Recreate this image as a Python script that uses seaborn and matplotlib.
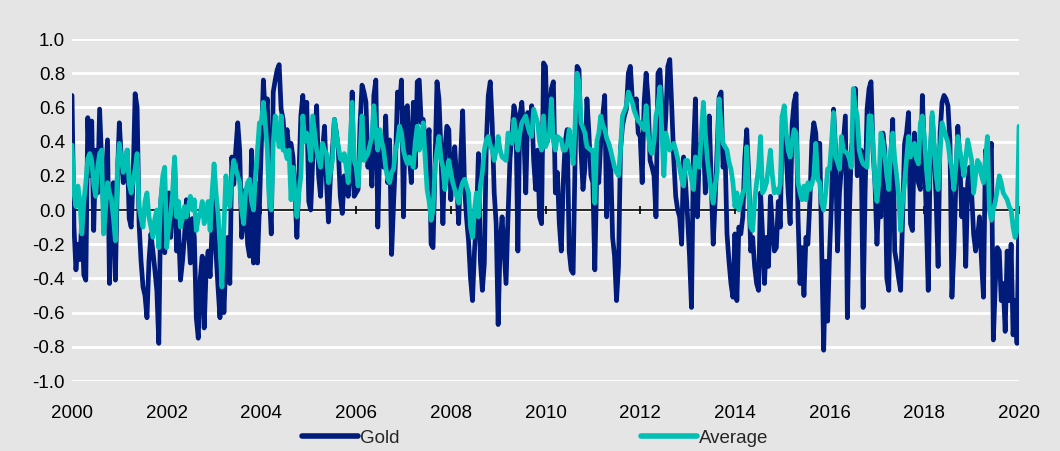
import numpy as np
import pandas as pd
import matplotlib
matplotlib.use("Agg")
import matplotlib.pyplot as plt
import seaborn as sns

# twice-monthly readings, Jan 2000 .. Jan 2020
gold = [
    0.67, -0.10, -0.35, -0.20, -0.29, -0.05, -0.38, -0.41, 0.54, 0.20, 0.52, -0.12,
    0.35, 0.10, 0.59, 0.30, 0.00, 0.20, 0.41, -0.43, 0.05, 0.16, -0.41, 0.20,        # 2000
    0.51, 0.30, 0.16, 0.25, 0.35, -0.05, -0.10, 0.20, 0.68, 0.60, -0.08, -0.30,
    -0.45, -0.50, -0.63, -0.30, -0.14, -0.24, -0.35, -0.47, -0.78, 0.05, 0.16, -0.25,  # 2001
    -0.04, 0.10, -0.16, 0.05, 0.29, -0.24, -0.10, -0.41, -0.30, -0.16, 0.06, -0.10,
    -0.31, -0.05, -0.16, -0.63, -0.75, -0.40, -0.27, -0.69, -0.35, -0.24, -0.39, -0.10,  # 2002
    0.08, -0.25, -0.45, -0.63, -0.16, -0.60, -0.30, -0.16, -0.43, 0.31, 0.15, 0.35,
    0.51, 0.35, -0.16, -0.05, 0.12, -0.20, -0.27, 0.35, -0.31, 0.16, -0.31, 0.02,     # 2003
    0.40, 0.76, 0.55, 0.65, 0.10, -0.14, 0.69, 0.76, 0.82, 0.85, 0.59, 0.53,
    0.35, 0.47, 0.35, 0.39, 0.31, 0.10, -0.16, 0.20, 0.55, 0.67, 0.40, 0.63,         # 2004
    0.05, 0.00, 0.29, 0.40, 0.61, 0.20, 0.08, 0.35, 0.49, 0.16, -0.07, 0.20,
    0.35, 0.53, 0.45, 0.35, 0.08, -0.02, 0.20, 0.15, 0.08, 0.22, 0.69, 0.08,         # 2005
    0.10, 0.12, 0.50, 0.73, 0.69, 0.63, 0.25, 0.40, 0.14, 0.67, 0.76, -0.10,
    0.37, 0.30, 0.25, 0.55, 0.16, 0.41, -0.26, 0.04, 0.30, 0.69, 0.60, 0.76,         # 2006
    -0.04, 0.59, 0.61, 0.31, 0.16, 0.63, 0.25, 0.75, 0.76, 0.51, 0.53, 0.40,
    0.35, 0.47, -0.20, -0.22, 0.27, 0.75, 0.65, 0.35, -0.08, 0.35, 0.49, 0.47,       # 2007
    0.06, 0.25, 0.37, 0.16, -0.08, 0.30, 0.58, 0.12, -0.05, -0.18, -0.40, -0.53,
    -0.24, -0.06, 0.33, -0.30, -0.47, -0.31, 0.39, 0.67, 0.75, 0.50, 0.10, -0.08,    # 2008
    -0.67, -0.20, -0.04, -0.24, -0.43, -0.04, 0.30, 0.45, 0.61, 0.55, -0.24, 0.55,
    0.63, 0.45, 0.10, 0.57, 0.45, 0.61, 0.29, 0.12, 0.35, -0.04, -0.08, 0.86,        # 2009
    0.84, 0.40, 0.55, 0.71, 0.75, 0.10, 0.22, -0.08, -0.24, 0.16, 0.40, 0.47,
    -0.24, -0.35, -0.37, 0.30, 0.84, 0.82, 0.35, 0.12, 0.25, 0.65, 0.45, 0.20,       # 2010
    0.16, -0.35, 0.24, 0.16, 0.40, 0.55, 0.67, -0.04, 0.39, 0.30, -0.16, -0.27,
    -0.53, -0.33, 0.35, 0.49, 0.55, 0.59, 0.80, 0.84, 0.65, 0.59, 0.65, 0.45,        # 2011
    0.43, 0.16, 0.63, 0.80, 0.65, 0.29, 0.25, 0.20, -0.04, 0.80, 0.82, 0.60,
    0.35, 0.55, 0.84, 0.88, 0.60, 0.30, 0.08, 0.00, -0.04, -0.20, 0.31, 0.16,        # 2012
    -0.04, -0.27, -0.57, 0.35, 0.65, -0.04, 0.35, 0.40, 0.45, 0.10, 0.35, 0.55,
    0.16, -0.20, 0.06, 0.35, 0.66, 0.69, 0.25, 0.35, -0.14, -0.30, -0.43, -0.51,     # 2013
    -0.14, -0.53, -0.10, -0.14, -0.04, 0.30, 0.47, 0.20, -0.24, -0.16, -0.33, -0.43,
    -0.47, 0.10, -0.14, -0.43, -0.16, -0.33, 0.08, -0.10, -0.24, -0.22, 0.05, -0.10,  # 2014
    0.55, 0.40, 0.33, 0.10, -0.08, 0.50, 0.63, 0.68, -0.04, -0.43, -0.22, -0.50,
    -0.16, -0.20, 0.05, 0.40, 0.51, 0.45, 0.20, 0.39, -0.24, -0.82, -0.30, -0.65,    # 2015
    -0.24, 0.06, 0.59, 0.35, -0.24, 0.10, 0.25, 0.40, 0.55, -0.63, -0.04, 0.35,
    0.45, 0.71, 0.20, 0.30, 0.35, -0.57, 0.10, 0.59, 0.71, 0.75, 0.35, 0.16,         # 2016
    -0.20, 0.06, -0.04, 0.45, 0.35, -0.40, -0.47, 0.30, 0.53, -0.24, -0.31, -0.40,
    -0.47, -0.04, 0.39, 0.45, 0.57, -0.08, -0.12, 0.45, 0.25, 0.16, 0.12, 0.67,      # 2017
    0.35, -0.04, -0.47, 0.30, 0.55, 0.35, 0.06, -0.33, 0.45, 0.63, 0.67, 0.65,
    0.61, 0.40, -0.51, -0.24, 0.16, 0.49, 0.30, -0.04, 0.12, -0.33, 0.16, 0.25,      # 2018
    0.10, -0.14, -0.24, -0.16, -0.04, -0.30, -0.51, 0.35, 0.25, 0.30, 0.39, -0.76,
    -0.43, -0.22, -0.24, -0.53, -0.43, -0.71, -0.24, -0.53, -0.20, -0.73, -0.53, -0.78,  # 2019
    0.03,                                                                           # 2020
]

average = [
    0.38, 0.10, 0.02, 0.14, 0.05, -0.14, 0.05, 0.16, 0.30, 0.33, 0.29, 0.15,
    0.08, 0.25, 0.33, 0.35, -0.14, 0.00, 0.16, 0.10, 0.06, -0.05, -0.18, 0.24,       # 2000
    0.39, 0.30, 0.22, 0.28, 0.35, 0.15, 0.10, 0.18, 0.24, 0.33, 0.02, -0.05,
    -0.10, 0.05, 0.10, -0.04, -0.10, -0.16, -0.05, 0.00, -0.22, 0.06, 0.20, 0.25,    # 2001
    -0.22, -0.10, -0.02, 0.10, 0.31, -0.04, 0.05, -0.10, -0.05, 0.02, -0.04, 0.02,
    0.08, 0.00, 0.06, -0.12, -0.05, -0.02, 0.05, -0.08, -0.02, 0.05, -0.12, 0.10,    # 2002
    0.27, 0.10, -0.02, -0.20, -0.45, -0.10, 0.20, 0.10, 0.02, 0.20, 0.29, 0.24,
    0.20, 0.16, 0.00, -0.08, 0.10, 0.16, 0.18, 0.05, 0.00, 0.20, 0.35, 0.51,         # 2003
    0.51, 0.63, 0.50, 0.35, 0.05, 0.00, 0.39, 0.55, 0.45, 0.37, 0.55, 0.35,
    0.35, 0.30, 0.35, 0.06, 0.25, 0.10, -0.04, 0.10, 0.20, 0.55, 0.40, 0.45,         # 2004
    0.40, 0.29, 0.55, 0.45, 0.35, 0.30, 0.25, 0.39, 0.35, 0.33, 0.16, 0.22,
    0.29, 0.53, 0.45, 0.37, 0.30, 0.29, 0.33, 0.25, 0.16, 0.40, 0.63, 0.29,          # 2005
    0.25, 0.14, 0.35, 0.55, 0.29, 0.31, 0.33, 0.38, 0.43, 0.61, 0.45, 0.35,
    0.47, 0.40, 0.35, 0.25, 0.18, 0.16, 0.22, 0.24, 0.35, 0.40, 0.49, 0.45,          # 2006
    0.35, 0.30, 0.27, 0.31, 0.28, 0.25, 0.40, 0.49, 0.35, 0.40, 0.51, 0.30,
    0.12, 0.05, -0.06, 0.00, 0.25, 0.35, 0.43, 0.30, 0.25, 0.12, 0.20, 0.29,         # 2007
    0.22, 0.16, 0.12, 0.08, 0.04, 0.12, 0.16, 0.18, 0.14, 0.10, -0.10, -0.16,
    0.00, 0.10, -0.04, 0.14, 0.22, 0.35, 0.41, 0.43, 0.38, 0.35, 0.29, 0.35,         # 2008
    0.43, 0.35, 0.31, 0.30, 0.29, 0.45, 0.42, 0.39, 0.53, 0.45, 0.35, 0.45,
    0.51, 0.53, 0.55, 0.49, 0.45, 0.43, 0.59, 0.55, 0.51, 0.40, 0.35, 0.55,          # 2009
    0.37, 0.40, 0.45, 0.65, 0.40, 0.35, 0.43, 0.42, 0.41, 0.35, 0.35, 0.38,
    0.47, 0.38, 0.27, 0.50, 0.80, 0.75, 0.51, 0.48, 0.45, 0.37, 0.36, 0.35,          # 2010
    0.35, 0.04, 0.40, 0.45, 0.55, 0.50, 0.47, 0.42, 0.39, 0.35, 0.30, 0.25,
    0.22, 0.20, 0.35, 0.55, 0.58, 0.61, 0.69, 0.66, 0.63, 0.58, 0.55, 0.52,          # 2011
    0.51, 0.49, 0.47, 0.61, 0.45, 0.35, 0.33, 0.40, 0.55, 0.61, 0.72, 0.45,
    0.20, 0.45, 0.40, 0.35, 0.37, 0.39, 0.35, 0.30, 0.25, 0.18, 0.14, 0.29,          # 2012
    0.29, 0.24, 0.18, 0.12, 0.31, 0.28, 0.25, 0.45, 0.63, 0.45, 0.30, 0.20,
    0.10, 0.04, 0.15, 0.22, 0.65, 0.50, 0.39, 0.37, 0.35, 0.28, 0.24, 0.16,          # 2013
    0.02, 0.10, 0.00, 0.05, 0.10, 0.12, 0.37, 0.10, -0.10, -0.12, 0.05, 0.16,
    0.25, 0.43, 0.10, 0.12, 0.16, 0.25, 0.35, 0.20, 0.10, 0.12, 0.10, 0.15,          # 2014
    0.55, 0.61, 0.45, 0.35, 0.31, 0.40, 0.47, 0.45, 0.16, 0.10, 0.06, 0.14,
    0.06, 0.16, 0.12, 0.15, 0.20, 0.39, 0.18, 0.16, 0.04, 0.00, 0.10, 0.24,          # 2015
    0.24, 0.40, 0.57, 0.31, 0.28, 0.24, 0.43, 0.35, 0.34, 0.33, 0.30, 0.25,
    0.71, 0.60, 0.55, 0.35, 0.30, 0.27, 0.26, 0.25, 0.55, 0.55, 0.40, 0.16,          # 2016
    0.05, 0.16, 0.45, 0.40, 0.31, 0.20, 0.12, 0.35, 0.45, 0.30, 0.20, 0.08,
    -0.12, 0.05, 0.16, 0.30, 0.43, 0.31, 0.35, 0.39, 0.30, 0.27, 0.51, 0.55,         # 2017
    0.43, 0.25, 0.12, 0.35, 0.57, 0.39, 0.20, 0.12, 0.35, 0.51, 0.47, 0.43,
    0.39, 0.30, 0.24, 0.12, 0.25, 0.43, 0.35, 0.29, 0.20, 0.30, 0.41, 0.35,          # 2018
    0.29, 0.10, 0.20, 0.29, 0.27, 0.20, 0.16, 0.30, 0.43, 0.00, -0.06, 0.00,
    0.05, 0.12, 0.20, 0.16, 0.10, 0.08, 0.06, 0.02, 0.00, -0.10, -0.16, -0.12,       # 2019
    0.49,                                                                           # 2020
]

year_ticks = list(range(2000, 2021, 2))
y_ticks = [-1.0, -0.8, -0.6, -0.4, -0.2, 0.0, 0.2, 0.4, 0.6, 0.8, 1.0]

assert len(gold) == len(average) == 20 * 24 + 1

# decimal-year time axis, two readings a month
t = 2000 + np.arange(len(gold)) / 24.0
df = pd.concat([
    pd.DataFrame({"date": t, "value": gold, "series": "Gold"}),
    pd.DataFrame({"date": t, "value": average, "series": "Average"}),
])

bg = "#e5e5e5"
sns.set_style("whitegrid", {"axes.facecolor": bg, "figure.facecolor": bg,
                            "grid.color": "white", "axes.edgecolor": bg})
plt.rcParams["font.family"] = ["Liberation Sans", "DejaVu Sans"]
plt.rcParams["axes.unicode_minus"] = False

fig = plt.figure(figsize=(10.6, 4.51), dpi=100)
ax = fig.add_axes([72 / 1060, 1 - 381 / 451, 947 / 1060, 342 / 451])

# zero line with small year ticks on it
ax.axhline(0, color="black", lw=1.2, zorder=1)
ax.plot(year_ticks, [0] * len(year_ticks), ls="none", marker="|",
        ms=6, mew=1.2, color="black", zorder=1)

sns.lineplot(data=df, x="date", y="value", hue="series",
             palette={"Gold": "#001b7a", "Average": "#00bfb3"},
             linewidth=3.4, ax=ax, zorder=3)

ax.set_xlim(2000, 2020)
ax.set_ylim(-1.0, 1.0)
ax.set_xticks(year_ticks)
ax.set_yticks(y_ticks)
ax.set_yticklabels([f"{v:.1f}" for v in y_ticks])
ax.xaxis.grid(False)
ax.yaxis.grid(True, color="white", lw=2)
ax.tick_params(axis="both", length=0, labelsize=13.5, colors="black")
ax.tick_params(axis="x", pad=17)
ax.tick_params(axis="y", pad=5)
ax.set_xlabel("")
ax.set_ylabel("")
for s in ax.spines.values():
    s.set_visible(False)

sns.move_legend(ax, "center", bbox_to_anchor=(0.489, -0.167), ncol=2,
                frameon=False, title=None, fontsize=13.5,
                handlelength=3.0, handletextpad=0.1, columnspacing=12.9)
for h in ax.get_legend().get_lines():
    h.set_linewidth(4)

fig.savefig("out.png", dpi=100, facecolor=bg)
